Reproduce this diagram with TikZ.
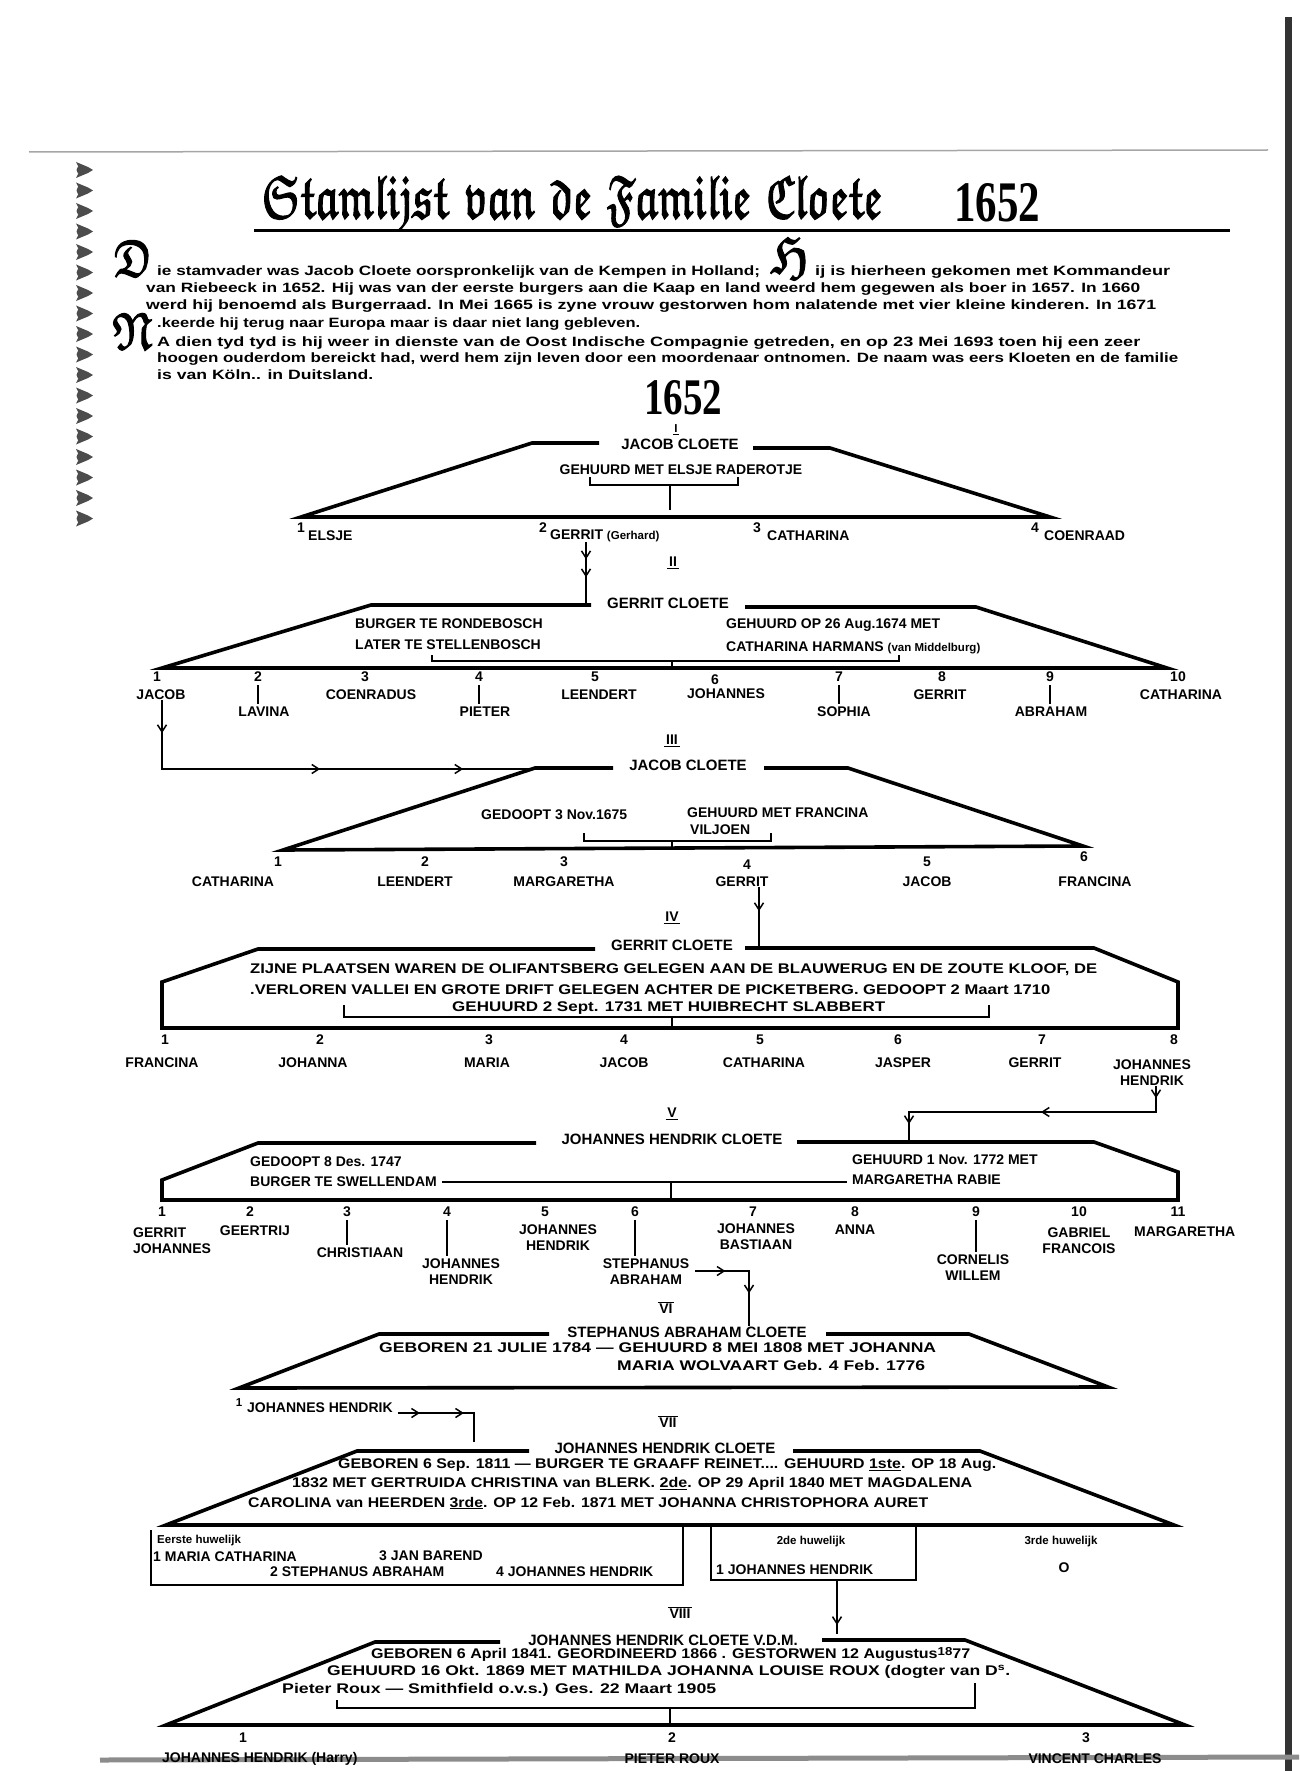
\documentclass[tikz,border=0pt]{standalone}
\usepackage{fontspec}
\setmainfont{Liberation Sans}
\newfontfamily\frakf{Latin Modern Math}[FakeBold=2]
\newfontfamily\yearf{Liberation Serif}
\usepackage{graphicx}
\usetikzlibrary{arrows.meta, decorations.markings}

\newcommand\fcap{\bfseries\fontsize{15}{16}\selectfont}
\newcommand\fkid{\bfseries\fontsize{14}{16}\selectfont}
\newcommand\fpara{\bfseries\fontsize{13.5}{15}\selectfont}
\newcommand\fsml{\bfseries\fontsize{11.5}{13}\selectfont}
\newcommand\fitto[2]{\resizebox{#1}{\height}{#2}}

\tikzset{
  barb/.tip={Straight Barb[length=7pt,width=9pt]},
  trap/.style={line width=3.6pt, line join=miter},
  brk/.style={line width=1.3pt},
  link/.style={line width=1.5pt},
  cname/.style={font=\fcap, inner sep=1pt},
  note/.style={font=\fkid, inner sep=0pt, anchor=west},
  kid/.style={font=\fkid, inner sep=0pt, align=center},
  num/.style={font=\fkid, inner sep=0pt},
  para/.style={font=\fpara, inner sep=0pt, anchor=west},
  gen/.style={font=\fkid, inner sep=1.5pt},
  drop/.style={inner sep=0pt},
  marks/.style={decoration={markings, #1}, postaction=decorate}
}

\begin{document}
\begin{tikzpicture}[x=1pt, y=-1pt]
\useasboundingbox (0,0) rectangle (1299,1771);

% page edges of the scan
\draw[black!35, line width=1.5pt] (29,152) -- (1268,150);
\draw[black!80, line width=7pt] (1288,17) -- (1288,1771);
\draw[black!45, line width=5pt] (100,1760) -- (1299,1757);

% border ornaments
\foreach \y in {170,190.5,...,535} {
  \fill[black!70] (76,\y-8) -- (88,\y-3) -- (93,\y) -- (88,\y+3) -- (76,\y+8) -- (80,\y) -- cycle;
  \fill[black!70] (81,\y) circle (4.5);
}

% title
\node[drop] (title) at (572,203) {\resizebox{620pt}{42pt}{\frakf 𝔖𝔱𝔞𝔪𝔩𝔦𝔧𝔰𝔱 𝔳𝔞𝔫 𝔡𝔢 𝔉𝔞𝔪𝔦𝔩𝔦𝔢 ℭ𝔩𝔬𝔢𝔱𝔢}};
\node[drop] (tyear) at (997,203) {\resizebox{86pt}{38pt}{\yearf\bfseries 1652}};
\draw[line width=3pt] (254,231) -- (1230,231);

% introduction
\node[drop] (dropD) at (133,259) {\resizebox{38pt}{36pt}{\frakf 𝔇}};
\node[para] (p1) at (157,272) {\fitto{603pt}{ie stamvader was Jacob Cloete oorspronkelijk van de Kempen in Holland;}};
\node[drop] (dropH) at (790,259) {\resizebox{38pt}{36pt}{\frakf ℌ}};
\node[para] (p1b) at (815,272) {\fitto{355pt}{ij is hierheen gekomen met Kommandeur}};
\node[para] (p2) at (146,289) {\fitto{994pt}{van Riebeeck in 1652. Hij was van der eerste burgers aan die Kaap en land weerd hem gegewen als boer in 1657. In 1660}};
\node[para] (p3) at (146,306) {\fitto{1010pt}{werd hij benoemd als Burgerraad. In Mei 1665 is zyne vrouw gestorwen hom nalatende met vier kleine kinderen. In 1671}};
\node[drop] (dropN) at (132,332) {\resizebox{40pt}{36pt}{\frakf 𝔑}};
\node[para] (p4) at (157,324) {\fitto{483pt}{.keerde hij terug naar Europa maar is daar niet lang gebleven.}};
\node[para] (p5) at (157,343) {\fitto{983pt}{A dien tyd tyd is hij weer in dienste van de Oost Indische Compagnie getreden, en op 23 Mei 1693 toen hij een zeer}};
\node[para] (p6) at (157,359) {\fitto{1021pt}{hoogen ouderdom bereickt had, werd hem zijn leven door een moordenaar ontnomen. De naam was eers Kloeten en de familie}};
\node[para] (p7) at (157,375) {\fitto{216pt}{is van Köln.. in Duitsland.}};

% generation I
\node[drop] (year) at (683,398) {\resizebox{78pt}{34pt}{\yearf\bfseries 1652}};
\node[gen, font=\fsml, inner sep=1pt] (r1) at (676,429) {I};
\draw[brk] (r1.south west) -- (r1.south east);
\node[cname] (c1) at (680,444) {JACOB CLOETE};
\draw[trap] (599,443) -- (532,443) -- (301,517) -- (1050,517) -- (830,448) -- (753,448);
\node[kid] (m1) at (681,470) {GEHUURD MET ELSJE RADEROTJE};
\draw[brk] (590,477) |- (670,485) -| (738,477);
\draw[brk] (670,485) -- (670,510);
\node[num] (n11) at (301,528) {1};
\node[note] (k11) at (308,536) {ELSJE};
\node[num] (n12) at (543,528) {2};
\node[note] (k12) at (550,536) {GERRIT {\fsml(Gerhard)}};
\node[num] (n13) at (757,528) {3};
\node[note] (k13) at (767,536) {CATHARINA};
\node[num] (n14) at (1035,528) {4};
\node[note] (k14) at (1044,536) {COENRAAD};
\node[gen] (r2) at (673,562) {II};
\draw[brk] (r2.south west) -- (r2.south east);
\coordinate (a1) at (586,606);
\draw[link, marks={mark=at position 17pt with {\arrow{barb}}, mark=at position 35pt with {\arrow{barb}}}] (k12.south -| a1) -- (a1);

% generation II
\node[cname] (c2) at (668,603) {GERRIT CLOETE};
\draw[trap] (591,605) -- (371,605) -- (162,668) -- (1167,668) -- (976,607) -- (745,607);
\node[note] (m2a) at (355,624) {BURGER TE RONDEBOSCH};
\node[note] (m2b) at (355,645) {LATER TE STELLENBOSCH};
\node[note] (m2c) at (726,625) {GEHUURD OP 26 Aug.1674 MET};
\node[note] (m2d) at (726,648) {CATHARINA HARMANS {\fsml(van Middelburg)}};
\draw[brk] (432,655) |- (672,661) -| (899,655);
\draw[brk] (672,661) -- (672,668);
\node[num] (n21) at (157,677) {1};
\node[kid] (k21) at (161,695) {JACOB};
\node[num] (n22) at (258,677) {2};
\node[kid] (k22) at (264,712) {LAVINA};
\draw[brk] ([yshift=-3pt]n22.south) -- ([yshift=3pt]n22.south |- k22.north);
\node[num] (n23) at (365,677) {3};
\node[kid] (k23) at (371,695) {COENRADUS};
\node[num] (n24) at (479,677) {4};
\node[kid] (k24) at (485,712) {PIETER};
\draw[brk] ([yshift=-3pt]n24.south) -- ([yshift=3pt]n24.south |- k24.north);
\node[num] (n25) at (595,677) {5};
\node[kid] (k25) at (599,695) {LEENDERT};
\node[num] (n26) at (715,680) {6};
\node[kid] (k26) at (726,694) {JOHANNES};
\node[num] (n27) at (839,677) {7};
\node[kid] (k27) at (844,712) {SOPHIA};
\draw[brk] ([yshift=-3pt]n27.south) -- ([yshift=3pt]n27.south |- k27.north);
\node[num] (n28) at (942,677) {8};
\node[kid] (k28) at (940,695) {GERRIT};
\node[num] (n29) at (1050,677) {9};
\node[kid] (k29) at (1051,712) {ABRAHAM};
\draw[brk] ([yshift=-3pt]n29.south) -- ([yshift=3pt]n29.south |- k29.north);
\node[num] (n210) at (1178,677) {10};
\node[kid] (k210) at (1181,695) {CATHARINA};
\node[gen] (r3) at (672,740) {III};
\draw[brk] (r3.south west) -- (r3.south east);
\coordinate (a2) at (162,769);
\coordinate (a2e) at (535,769);
\draw[link, marks={mark=at position 33pt with {\arrow{barb}}, mark=at position 227pt with {\arrow{barb}}, mark=at position 370pt with {\arrow{barb}}}] (k21.south -| a2) -- (a2) -- (a2e);

% generation III
\node[cname] (c3) at (688,765) {JACOB CLOETE};
\draw[trap] (613,768) -- (535,768) -- (283,850) -- (1083,846) -- (848,768) -- (764,768);
\node[note] (m3a) at (481,815) {GEDOOPT 3 Nov.1675};
\node[note] (m3b) at (687,813) {GEHUURD MET FRANCINA};
\node[note] (m3c) at (690,830) {VILJOEN};
\draw[brk] (584,833) |- (672,841) -| (771,833);
\draw[brk] (672,841) -- (672,849);
\node[num] (n31) at (278,862) {1};
\node[kid] (k31) at (233,882) {CATHARINA};
\node[num] (n32) at (425,862) {2};
\node[kid] (k32) at (415,882) {LEENDERT};
\node[num] (n33) at (564,862) {3};
\node[kid] (k33) at (564,882) {MARGARETHA};
\node[num] (n34) at (747,865) {4};
\node[kid] (k34) at (742,882) {GERRIT};
\node[num] (n35) at (927,862) {5};
\node[kid] (k35) at (927,882) {JACOB};
\node[num] (n36) at (1084,857) {6};
\node[kid] (k36) at (1095,882) {FRANCINA};
\node[gen] (r4) at (672,917) {IV};
\draw[brk] (r4.south west) -- (r4.south east);
\coordinate (a3) at (759,948);
\draw[link, marks={mark=at position 24pt with {\arrow{barb}}}] (k34.south -| a3) -- (a3);

% generation IV
\node[cname] (c4) at (672,945) {GERRIT CLOETE};
\draw[trap] (595,949) -- (258,949) -- (162,982) -- (162,1028) -- (1178,1028) -- (1178,982) -- (1094,948) -- (745,948);
\node[note] (m4a) at (250,970) {\fitto{847pt}{ZIJNE PLAATSEN WAREN DE OLIFANTSBERG GELEGEN AAN DE BLAUWERUG EN DE ZOUTE KLOOF, DE}};
\node[note] (m4b) at (250,990) {\fitto{800pt}{.VERLOREN VALLEI EN GROTE DRIFT GELEGEN ACHTER DE PICKETBERG. GEDOOPT 2 Maart 1710}};
\node[note] (m4c) at (452,1008) {\fitto{433pt}{GEHUURD 2 Sept. 1731 MET HUIBRECHT SLABBERT}};
\draw[brk] (344,1005) |- (672,1017) -| (989,1005);
\draw[brk] (672,1017) -- (672,1028);
\node[num] (n41) at (165,1040) {1};
\node[kid] (k41) at (162,1063) {FRANCINA};
\node[num] (n42) at (320,1040) {2};
\node[kid] (k42) at (313,1063) {JOHANNA};
\node[num] (n43) at (489,1040) {3};
\node[kid] (k43) at (487,1063) {MARIA};
\node[num] (n44) at (624,1040) {4};
\node[kid] (k44) at (624,1063) {JACOB};
\node[num] (n45) at (760,1040) {5};
\node[kid] (k45) at (764,1063) {CATHARINA};
\node[num] (n46) at (898,1040) {6};
\node[kid] (k46) at (903,1063) {JASPER};
\node[num] (n47) at (1042,1040) {7};
\node[kid] (k47) at (1035,1063) {GERRIT};
\node[num] (n48) at (1174,1040) {8};
\node[kid] (k48) at (1152,1073) {JOHANNES\\HENDRIK};
\node[gen] (r5) at (672,1113) {V};
\draw[brk] (r5.south west) -- (r5.south east);
\coordinate (a4) at (1156,1112);
\coordinate (a4b) at (909,1112);
\coordinate (a4e) at (909,1142);
\draw[link, marks={mark=at position 12pt with {\arrow{barb}}, mark=at position 141pt with {\arrow{barb}}, mark=at position 285pt with {\arrow{barb}}}] (k48.south -| a4) -- (a4) -- (a4b) -- (a4e);

% generation V
\node[cname] (c5) at (672,1139) {JOHANNES HENDRIK CLOETE};
\draw[trap] (536,1143) -- (258,1143) -- (162,1180) -- (162,1200) -- (1178,1200) -- (1178,1172) -- (1094,1142) -- (797,1142);
\node[note] (m5a) at (250,1162) {GEDOOPT 8 Des. 1747};
\node[note] (m5b) at (250,1182) {BURGER TE SWELLENDAM};
\node[note] (m5c) at (852,1160) {GEHUURD 1 Nov. 1772 MET};
\node[note] (m5d) at (852,1180) {MARGARETHA RABIE};
\draw[brk] ([xshift=5pt]m5b.east) -- ([xshift=-5pt]m5d.west |- m5b.east);
\draw[brk] (671,1183) -- (671,1200);
\node[num] (n51) at (162,1212) {1};
\node[kid, align=left, anchor=west] (k51) at (133,1241) {GERRIT\\JOHANNES};
\node[num] (n52) at (250,1212) {2};
\node[kid] (k52) at (255,1231) {GEERTRIJ};
\node[num] (n53) at (347,1212) {3};
\node[kid] (k53) at (360,1253) {CHRISTIAAN};
\draw[brk] ([yshift=-3pt]n53.south) -- ([yshift=3pt]n53.south |- k53.north);
\node[num] (n54) at (447,1212) {4};
\node[kid] (k54) at (461,1272) {JOHANNES\\HENDRIK};
\draw[brk] ([yshift=-3pt]n54.south) -- ([yshift=3pt]n54.south |- k54.north);
\node[num] (n55) at (545,1212) {5};
\node[kid] (k55) at (558,1238) {JOHANNES\\HENDRIK};
\node[num] (n56) at (635,1212) {6};
\node[kid] (k56) at (646,1272) {STEPHANUS\\ABRAHAM};
\draw[brk] ([yshift=-3pt]n56.south) -- ([yshift=3pt]n56.south |- k56.north);
\node[num] (n57) at (753,1212) {7};
\node[kid] (k57) at (756,1237) {JOHANNES\\BASTIAAN};
\node[num] (n58) at (855,1212) {8};
\node[kid] (k58) at (855,1230) {ANNA};
\node[num] (n59) at (976,1212) {9};
\node[kid] (k59) at (973,1268) {CORNELIS\\WILLEM};
\draw[brk] ([yshift=-3pt]n59.south) -- ([yshift=3pt]n59.south |- k59.north);
\node[num] (n510) at (1079,1212) {10};
\node[kid] (k510) at (1079,1241) {GABRIEL\\FRANCOIS};
\node[num] (n511) at (1178,1212) {11};
\node[kid, anchor=west] (k511) at (1134,1232) {MARGARETHA};
\node[gen] (r6) at (666,1309) {VI};
\draw[brk] (r6.north west) -- (r6.north east);

% generation VI
\node[cname] (c6) at (687,1332) {STEPHANUS ABRAHAM CLOETE};
\coordinate (a5) at (749,1271);
\draw[link, marks={mark=at position 30pt with {\arrow{barb}}, mark=at position 76pt with {\arrow{barb}}}] ([xshift=6pt]k56.east |- a5) -- (a5) -- (a5 |- c6.north);
\draw[trap] (549,1334) -- (379,1334) -- (239,1388) -- (1108,1387) -- (969,1334) -- (826,1334);
\node[note] (m6a) at (379,1348) {\fitto{557pt}{GEBOREN 21 JULIE 1784 --- GEHUURD 8 MEI 1808 MET JOHANNA}};
\node[note] (m6b) at (617,1365) {\fitto{308pt}{MARIA WOLVAART Geb. 4 Feb. 1776}};
\node[num] (n61) at (239,1403) {\fsml 1};
\node[note] (k61) at (247,1408) {JOHANNES HENDRIK};
\node[gen] (r7) at (668,1423) {VII};
\draw[brk] (r7.north west) -- (r7.north east);

% generation VII
\node[cname] (c7) at (665,1448) {JOHANNES HENDRIK CLOETE};
\coordinate (a6) at (474,1413);
\draw[link, marks={mark=at position 22pt with {\arrow{barb}}, mark=at position 66pt with {\arrow{barb}}}] ([xshift=5pt]k61.east |- a6) -- (a6) -- (a6 |- c7.north);
\draw[trap] (529,1451) -- (357,1451) -- (166,1525) -- (1174,1525) -- (980,1451) -- (793,1451);
\node[note] (m7a) at (338,1465) {\fitto{658pt}{GEBOREN 6 Sep. 1811 --- BURGER TE GRAAFF REINET.... GEHUURD \underline{1ste}. OP 18 Aug.}};
\node[note] (m7b) at (292,1484) {\fitto{680pt}{1832 MET GERTRUIDA CHRISTINA van BLERK. \underline{2de}. OP 29 April 1840 MET MAGDALENA}};
\node[note] (m7c) at (248,1503) {\fitto{680pt}{CAROLINA van HEERDEN \underline{3rde}. OP 12 Feb. 1871 MET JOHANNA CHRISTOPHORA AURET}};
\draw[brk] (151,1530) -- (151,1585) -- (683,1585) -- (683,1525);
\draw[brk] (711,1525) -- (711,1580) -- (916,1580) -- (916,1525);
\node[note, font=\fsml] (h1) at (157,1541) {Eerste huwelijk};
\node[note] (h1a) at (153,1557) {1 MARIA CATHARINA};
\node[note] (h1c) at (379,1556) {3 JAN BAREND};
\node[note] (h1b) at (270,1572) {2 STEPHANUS ABRAHAM};
\node[note] (h1d) at (496,1572) {4 JOHANNES HENDRIK};
\node[kid, font=\fsml] (h2) at (811,1542) {2de huwelijk};
\node[note] (h2a) at (716,1570) {1 JOHANNES HENDRIK};
\node[kid, font=\fsml] (h3) at (1061,1542) {3rde huwelijk};
\node[kid] (h3a) at (1064,1568) {O};
\node[gen] (r8) at (680,1614) {VIII};
\draw[brk] (r8.north west) -- (r8.north east);

% generation VIII
\node[cname] (c8) at (663,1640) {JOHANNES HENDRIK CLOETE V.D.M.};
\coordinate (b2) at (837,1580);
\draw[link, marks={mark=at position 45pt with {\arrow{barb}}}] (b2) -- (b2 |- c8.north);
\draw[trap] (500,1642) -- (375,1642) -- (166,1725) -- (1185,1725) -- (965,1640) -- (822,1640);
\node[note] (m8a) at (371,1654) {\fitto{599pt}{GEBOREN 6 April 1841. GEORDINEERD 1866 . GESTORWEN 12 Augustus\raisebox{3pt}{\fsml 18}77}};
\node[note] (m8b) at (327,1672) {\fitto{683pt}{GEHUURD 16 Okt. 1869 MET MATHILDA JOHANNA LOUISE ROUX (dogter van D\textsuperscript{s}.}};
\node[note] (m8c) at (282,1690) {\fitto{434pt}{Pieter Roux --- Smithfield o.v.s.) Ges. 22 Maart 1905}};
\draw[brk] (337,1700) |- (670,1708) -| (975,1683);
\draw[brk] (670,1708) -- (670,1725);
\node[num] (n81) at (243,1738) {1};
\node[note] (k81) at (162,1759) {JOHANNES HENDRIK (Harry)};
\node[num] (n82) at (672,1738) {2};
\node[kid] (k82) at (672,1759) {PIETER ROUX};
\node[num] (n83) at (1086,1738) {3};
\node[kid] (k83) at (1095,1759) {VINCENT CHARLES};
\end{tikzpicture}
\end{document}
